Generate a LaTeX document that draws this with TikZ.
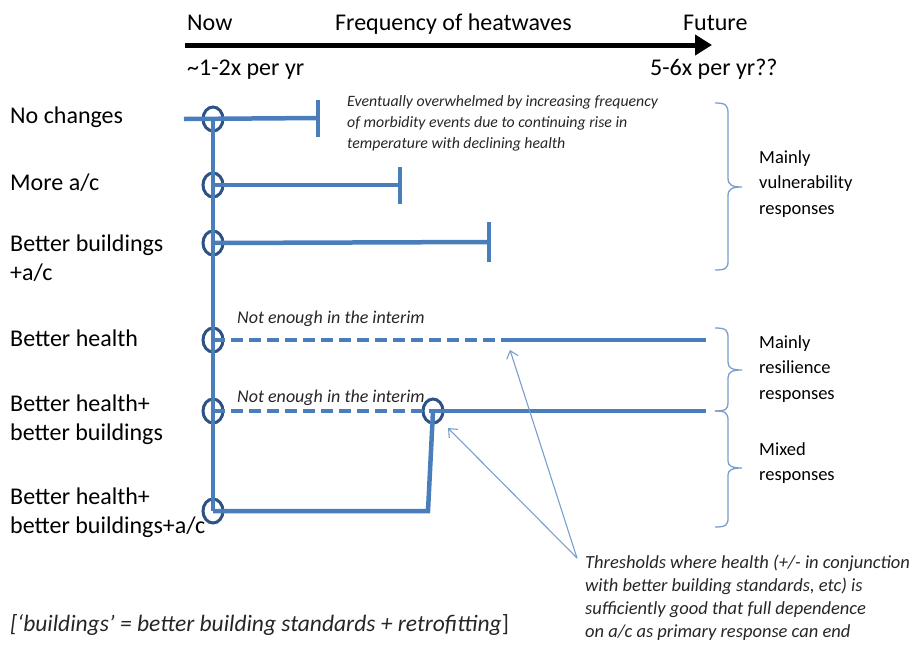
\documentclass[tikz,border=0pt]{standalone}
\usepackage{fontspec}
\setmainfont{Carlito}
\usepackage{xcolor}
\usepackage{tikz}
\usetikzlibrary{arrows.meta,shapes.geometric}
\definecolor{lineblue}{HTML}{4A7EBB}
\definecolor{ringblue}{HTML}{2E5283}
\definecolor{thinblue}{HTML}{7B9DCC}
\definecolor{notegray}{HTML}{262626}
\tikzset{
  route/.style={draw=lineblue, line width=4.5pt},
  interim/.style={route, dash pattern=on 12pt off 6pt},
  ring/.style={draw=ringblue, ellipse, line width=3pt, minimum width=20pt, minimum height=24pt, inner sep=0pt},
  stopbar/.style={fill=lineblue, inner sep=0pt, minimum width=4.5pt},
  callout/.style={draw=thinblue, line width=1.1pt, -{Straight Barb[length=7pt,width=12pt]}},
  curly/.style={draw=thinblue, line width=1.3pt},
  bigtext/.style={inner sep=0pt, font=\fontsize{24}{29}\selectfont, align=left},
  sidetext/.style={inner sep=0pt, font=\fontsize{18.5}{25.5}\selectfont, align=left, anchor=west},
  remark/.style={inner sep=0pt, text=notegray, align=left, anchor=west}}

\begin{document}
\begin{tikzpicture}[x=1pt,y=-1pt]
\useasboundingbox (0,0) rectangle (911,646);

% time axis
\coordinate (A0) at (185,45) ;
\coordinate (A1) at (712,45) ;
\draw [line width=5pt,-{Triangle[length=17pt,width=20pt]}](A0)--(A1);
\node[bigtext, anchor=base west] (now) at (187,30) {Now};
\node[bigtext, anchor=base west] (freq) at (335,30) {Frequency of heatwaves};
\node[bigtext, anchor=base west] (fut) at (683,30) {Future};
\node[bigtext, anchor=base west] (lo) at (187,75) {\textasciitilde1-2x per yr};
\node[bigtext, anchor=base west] (hi) at (650,75) {5-6x per yr??};

% options
\node[bigtext, anchor=base west] (o1) at (10,123) {No changes};
\node[bigtext, anchor=base west] (o2) at (10,190) {More a/c};
\node[bigtext, anchor=west] (o3) at (10,258) {Better buildings\\+a/c};
\node[bigtext, anchor=base west] (o4) at (10,346) {Better health};
\node[bigtext, anchor=west] (o5) at (10,420) {Better health+\\better buildings};
\node[bigtext, anchor=west] (o6) at (10,513) {Better health+\\better buildings+a/c};

% rings
\node[ring] (c1) at (213,119) {};
\node[ring] (c2) at (213,185) {};
\node[ring] (c3) at (213,243) {};
\node[ring] (c4) at (213,340) {};
\node[ring] (c5) at (213,411) {};
\node[ring] (c6) at (213,511) {};
\node[ring] (c7) at (433,411) {};

% end of the line
\node[stopbar, minimum height=37pt] (b1) at (318,118) {};
\node[stopbar, minimum height=37pt] (b2) at (400,185) {};
\node[stopbar, minimum height=40pt] (b3) at (489,242) {};

\coordinate (s1) at (184,119) ;
\coordinate (m4) at (510,340) ;
\coordinate (f4) at (706,340) ;
\coordinate (f5) at (706,411) ;
\coordinate (k6) at (428,511) ;

\draw [route](c1.center)--(c6.center);
\draw [route](s1)--(b1.center);
\draw [route](c2.center)--(b2.center);
\draw [route](c3.center)--(b3.center);
\draw [interim](c4.center)--(m4);
\draw [route](m4)--(f4);
\draw [interim](c5.center)--(c7.center);
\draw [route](c7.center)--(f5);
\draw [route](c6.center)--(k6)--(c7.center);

\node[remark, font=\fontsize{18}{20}\selectfont\itshape] (n4) at (237,319) {Not enough in the interim};
\node[remark, font=\fontsize{18}{20}\selectfont\itshape] (n5) at (237,398) {Not enough in the interim};
\node[remark, font=\fontsize{15.8}{21}\selectfont\itshape] (ev) at (347,123)
  {Eventually overwhelmed by increasing frequency\\of morbidity events due to continuing rise in\\temperature with declining health};

% braces
\draw [curly](715,103) .. controls (726,103) and (728,105) .. (728,114) -- (728,178)
  .. controls (728,185) and (732,187) .. (742,187) .. controls (732,187) and (728,189) .. (728,196)
  -- (728,261) .. controls (728,268) and (726,270) .. (715,270);
\draw [curly](715,328) .. controls (726,328) and (728,330) .. (728,338) -- (728,362)
  .. controls (728,368) and (732,370) .. (742,370) .. controls (732,370) and (728,372) .. (728,378)
  -- (728,403) .. controls (728,409) and (726,411) .. (715,411);
\draw [curly](715,411) .. controls (726,411) and (728,413) .. (728,421) -- (728,461)
  .. controls (728,466) and (732,468) .. (742,468) .. controls (732,468) and (728,470) .. (728,475)
  -- (728,518) .. controls (728,525) and (726,527) .. (715,527);
\node[sidetext] (vul) at (759,184) {Mainly\\vulnerability\\responses};
\node[sidetext] (res) at (759,369) {Mainly\\resilience\\responses};
\node[sidetext] (mix) at (759,463) {Mixed\\responses};

% thresholds
\node[remark, font=\fontsize{18.5}{23}\selectfont\itshape] (th) at (585,598)
  {Thresholds where health (+/- in conjunction\\with better building standards, etc) is\\sufficiently good that full dependence\\on a/c as primary response can end};
\coordinate (t0) at (577,558) ;
\coordinate (t1) at (510,350) ;
\coordinate (t2) at (448,428) ;
\draw [callout](t0)--(t1);
\draw [callout](t0)--(t2);

\node[remark, font=\fontsize{23.5}{26}\selectfont] (key) at (10,625)
  {\textit{[‘buildings’ = better building standards + retrofitting}]};
\end{tikzpicture}
\end{document}
